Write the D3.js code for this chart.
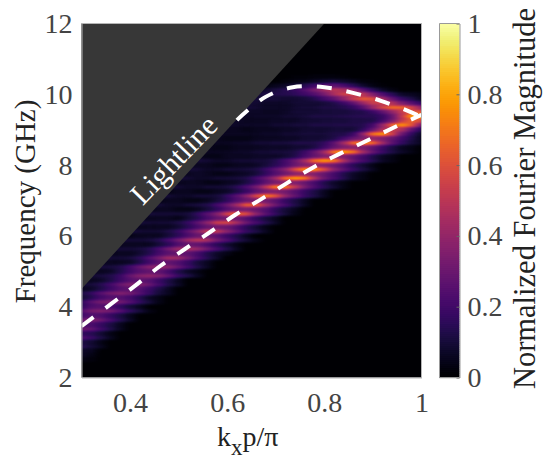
<!DOCTYPE html>
<html>
<head>
<meta charset="utf-8">
<script src="https://cdn.jsdelivr.net/npm/d3@7"></script>
<style>
  html, body { margin: 0; padding: 0; background: #fff; }
  svg { display: block; }
  text { font-family: "Liberation Serif", "Times New Roman", serif; }
</style>
</head>
<body>
<div id="chart"></div>
<script>
// kx p/pi columns of the map
const kxStart = 0.3, kxStep = 0.02;
// frequency of the first row below, rows go downward
const freqTop = 10.5, freqStep = 0.125;

// map rows in percent: first entry is the index of the first column, the rest are cells
const cellRows = [
  [22, 1,1,2,2,2,1],
  [21, 2,3,4,6,8,9,7,5,2,1],
  [18, 2,3,5,7,10,14,20,25,27,22,15,8,3,1],
  [17, 4,5,8,11,14,18,24,34,44,50,47,41,26,15,7,3],
  [17, 9,10,12,13,14,16,20,25,34,47,56,60,51,36,24,15,7,6,4],
  [16, 7,9,10,10,10,9,9,10,14,21,28,40,55,64,60,46,29,18,12,6],
  [15, 6,7,9,9,7,7,7,9,9,9,10,13,19,28,42,54,56,48,34,25,17],
  [14, 7,9,10,10,9,7,7,7,9,10,10,12,12,14,18,27,43,59,70,68,58,42],
  [13, 6,7,9,9,7,7,6,6,7,9,9,9,10,10,10,12,13,18,27,40,54,62,66],
  [12, 6,7,9,10,9,7,7,7,7,9,9,10,12,12,12,13,14,15,15,19,30,54,82,95],
  [11, 6,6,7,9,9,7,6,6,6,7,7,7,9,9,10,10,10,12,12,13,21,34,54,66,60],
  [10, 6,7,9,10,9,7,7,7,7,7,9,9,10,10,12,12,12,13,13,14,21,42,68,78,62,34],
  [10, 4,6,7,7,7,6,6,4,6,6,6,7,7,9,9,9,10,10,10,17,30,50,56,48,28,15],
  [9, 6,7,9,9,7,7,6,6,6,6,7,7,9,9,10,10,10,12,13,19,40,70,78,56,30,16,7],
  [9, 4,6,7,7,6,6,4,4,4,6,6,6,7,7,9,9,10,13,21,30,37,42,37,30,21,13,6],
  [8, 6,7,9,9,7,6,6,6,7,7,9,9,10,10,12,12,13,17,27,44,67,76,67,44,27,17,10,6],
  [8, 4,6,7,7,6,6,4,4,6,6,6,7,7,7,9,9,12,20,29,36,40,36,29,20,12,6,4],
  [7, 6,7,9,9,7,6,6,6,6,7,7,9,9,10,10,12,19,29,44,70,80,70,44,29,19,12,7,4],
  [7, 4,6,7,7,6,6,4,4,6,6,6,7,7,7,9,13,21,29,36,40,36,29,21,13,7,4],
  [12, 10,9,7,7,9,9,10,10,14,22,31,46,70,80,72,48,31,22,14,7,4],
  [11, 6,6,6,4,4,6,6,7,10,15,22,30,37,40,37,31,23,15,9,4],
  [11, 10,9,7,7,9,9,10,12,19,28,39,61,78,78,61,39,28,19,12,6],
  [10, 4,6,7,6,4,4,6,7,10,17,25,32,39,40,36,29,21,13,7,4],
  [10, 10,9,7,7,9,9,10,13,21,30,44,70,80,72,48,31,22,14,7,4],
  [9, 4,6,6,6,4,4,6,7,12,19,28,35,39,36,29,21,13,7,4],
  [9, 10,9,7,7,9,9,10,15,23,33,51,72,72,51,33,23,15,9,4],
  [9, 4,6,6,4,4,6,7,12,19,28,35,37,33,26,18,12,6],
  [8, 10,9,7,7,9,9,10,17,26,39,59,72,61,40,28,18,12,6],
  [8, 4,6,6,4,4,6,10,16,25,32,36,33,27,18,12,6],
  [7, 10,9,7,7,9,10,13,21,30,44,64,64,44,30,21,13,6],
  [7, 4,6,6,4,4,6,10,17,25,32,35,31,25,16,10,6],
  [7, 10,9,9,9,10,17,26,37,56,66,59,39,26,17,10,4],
  [6, 4,6,6,6,4,9,14,22,29,33,31,25,16,10,6],
  [6, 10,9,9,9,12,18,28,40,56,58,46,31,22,14,7],
  [5, 4,6,6,6,6,9,15,22,29,32,30,23,15,9,4],
  [5, 10,9,9,9,12,18,28,39,54,52,39,28,18,12,6],
  [5, 4,6,6,6,10,16,24,30,31,26,18,12,6],
  [4, 10,9,9,10,14,22,32,44,50,46,33,24,15,9,4],
  [4, 6,6,6,6,10,16,25,30,28,22,15,9,4],
  [3, 10,9,9,10,14,22,32,43,46,40,30,21,13,6],
  [3, 6,6,6,9,14,22,28,30,28,21,13,7,4],
  [2, 10,9,9,10,15,24,33,44,42,32,22,14,7],
  [2, 6,6,6,7,13,21,28,29,25,18,10,6],
  [2, 10,10,13,20,29,37,40,37,29,20,12,6],
  [1, 6,6,7,13,20,26,29,28,21,13,7,4],
  [0, 9,9,10,13,19,29,37,40,36,28,18,12,6],
  [0, 6,6,7,12,19,25,28,26,19,12,6],
  [0, 9,10,14,21,30,37,37,30,21,13,7],
  [0, 6,7,12,19,25,28,25,19,12,6],
  [0, 12,17,26,33,37,33,26,18,10,6],
  [0, 9,14,21,25,25,21,14,7,4],
  [0, 17,26,33,36,32,25,17,10,4],
  [0, 17,24,26,24,17,10,6],
  [0, 25,32,35,32,25,16,10,4],
  [0, 21,25,24,18,12,6],
  [0, 31,35,30,22,14,7],
  [0, 24,23,18,12,6],
  [0, 31,28,20,13,6],
  [0, 17,15,9,4],
  [0, 24,19,12,6],
  [0, 12,9,4],
  [0, 15,10,6],
  [0, 7,6],
  [0, 7,4],
  [0, 4,2]
];

// dashed white fits over the two bands
const lowerK = [0.3, 0.363, 0.412, 0.462, 0.513, 0.565, 0.616, 0.67, 0.723, 0.775, 0.83, 0.886, 0.941, 1];
const lowerF = [3.45, 4.1, 4.61, 5.15, 5.63, 6.11, 6.59, 7.04, 7.49, 7.92, 8.31, 8.68, 9.05, 9.42];
const upperK = [0.62, 0.678, 0.735, 0.8, 0.859, 0.918, 0.972, 1];
const upperF = [9.27, 9.92, 10.2, 10.2, 10.04, 9.81, 9.53, 9.36];

// edge of the grey lightline wedge
const lightK = [0.3, 0.8];
const lightF = [4.5, 12];

const xTicks = [0.4, 0.6, 0.8, 1];
const yTicks = [2, 4, 6, 8, 10, 12];
const barTicks = [0, 0.2, 0.4, 0.6, 0.8, 1];

const W = 548, H = 461;
const plot = {left: 81.5, right: 421.5, top: 23.5, bottom: 377.5};
const bar = {left: 439.5, right: 459.5};

const x = d3.scaleLinear().domain([0.3, 1]).range([plot.left, plot.right]);
const y = d3.scaleLinear().domain([2, 12]).range([plot.bottom, plot.top]);
const barY = d3.scaleLinear().domain([0, 1]).range([plot.bottom, plot.top]);
const color = d3.scaleSequential(d3.interpolateInferno).domain([0, 1]);
const grey = d3.scaleLinear().domain([0, 100]).range(["#000", "#fff"]);

const svg = d3.select("#chart").append("svg").attr("width", W).attr("height", H);
const defs = svg.append("defs");

defs.append("clipPath").attr("id", "plotClip").append("rect")
  .attr("x", plot.left).attr("y", plot.top)
  .attr("width", plot.right - plot.left).attr("height", plot.bottom - plot.top);

// blur the values first, then push them through inferno so the in-between tones stay right
const filter = defs.append("filter").attr("id", "heat")
  .attr("filterUnits", "userSpaceOnUse")
  .attr("x", plot.left - 30).attr("y", plot.top - 30)
  .attr("width", plot.right - plot.left + 60).attr("height", plot.bottom - plot.top + 60)
  .attr("color-interpolation-filters", "sRGB");
filter.append("feGaussianBlur").attr("stdDeviation", "3.5 0.8");
const table = d3.range(0, 1.0001, 1 / 32).map(v => d3.rgb(color(v)));
const transfer = filter.append("feComponentTransfer");
["r", "g", "b"].forEach(ch => {
  transfer.append("feFunc" + ch.toUpperCase()).attr("type", "table")
    .attr("tableValues", table.map(c => (c[ch] / 255).toFixed(3)).join(" "));
});

// flatten the rows into cells
const cells = [];
cellRows.forEach((row, i) => {
  row.slice(1).forEach((v, j) => {
    cells.push({k: kxStart + kxStep * (row[0] + j), f: freqTop - freqStep * i, v: v});
  });
});

const plotG = svg.append("g").attr("clip-path", "url(#plotClip)");
const heat = plotG.append("g").attr("filter", "url(#heat)");
heat.append("rect")
  .attr("x", plot.left - 30).attr("y", plot.top - 30)
  .attr("width", plot.right - plot.left + 60).attr("height", plot.bottom - plot.top + 60)
  .attr("fill", "#000");
heat.selectAll("rect.cell")
  .data(cells)
  .join("rect")
    .attr("class", "cell")
    .attr("x", d => x(d.k - kxStep / 2))
    .attr("y", d => y(d.f + freqStep / 2))
    .attr("width", x(kxStart + kxStep) - x(kxStart))
    .attr("height", y(freqTop) - y(freqTop + freqStep))
    .attr("fill", d => grey(d.v));

// lightline wedge
const wedge = d3.line().x(d => x(d[0])).y(d => y(d[1]));
plotG.append("path")
  .attr("d", wedge([[lightK[0], 12], [lightK[0], lightF[0]], [lightK[1], lightF[1]]]) + "Z")
  .attr("fill", "#373737");

// dashed curves
const curve = d3.line().x(d => x(d[0])).y(d => y(d[1])).curve(d3.curveCatmullRom);
[[lowerK, lowerF], [upperK, upperF]].forEach(([ks, fs]) => {
  plotG.append("path")
    .attr("d", curve(ks.map((k, i) => [k, fs[i]])))
    .attr("fill", "none")
    .attr("stroke", "#fff")
    .attr("stroke-width", 4)
    .attr("stroke-dasharray", "15 15");
});

svg.append("text")
  .attr("transform", "translate(176,162) rotate(-46)")
  .attr("text-anchor", "middle")
  .attr("dominant-baseline", "middle")
  .attr("font-size", 30)
  .attr("fill", "#fff")
  .text("Lightline");

// axes
const tickColor = "#444";
const xAxis = svg.append("g").attr("transform", `translate(0,${plot.bottom})`)
  .call(d3.axisBottom(x).tickValues(xTicks).tickFormat(d3.format("~g")).tickSize(0).tickPadding(15));
const yAxis = svg.append("g").attr("transform", `translate(${plot.left},0)`)
  .call(d3.axisLeft(y).tickValues(yTicks).tickSize(0).tickPadding(9));
[xAxis, yAxis].forEach(g => {
  g.attr("font-family", null);
  g.selectAll("text").attr("font-size", 28).attr("fill", tickColor);
  g.select(".domain").attr("stroke", "#b5b5b5");
});
// rest of the axes box
svg.append("path")
  .attr("d", `M${plot.left},${plot.top}H${plot.right}V${plot.bottom}`)
  .attr("fill", "none").attr("stroke", "#b5b5b5");

svg.append("text")
  .attr("transform", `translate(35,${(plot.top + plot.bottom) / 2 + 1}) rotate(-90)`)
  .attr("text-anchor", "middle")
  .attr("font-size", 29)
  .attr("fill", "#222")
  .text("Frequency (GHz)");

const xLabel = svg.append("text")
  .attr("x", 217).attr("y", 446)
  .attr("font-size", 28)
  .attr("fill", "#222");
xLabel.append("tspan").text("k");
xLabel.append("tspan").attr("dy", 9).attr("font-size", 23).text("x");
xLabel.append("tspan").attr("dy", -9).text("p/π");

// colorbar
const barG = svg.append("g");
barG.selectAll("rect")
  .data(d3.range(0, 1, 1 / 177))
  .join("rect")
    .attr("x", bar.left)
    .attr("y", d => barY(d + 1 / 177))
    .attr("width", bar.right - bar.left)
    .attr("height", barY(0) - barY(1 / 177) + 0.6)
    .attr("fill", d => color(d));
const barAxis = svg.append("g").attr("transform", `translate(${bar.right},0)`)
  .call(d3.axisRight(barY).tickValues(barTicks).tickFormat(d3.format("~g")).tickSizeInner(-3).tickSizeOuter(0).tickPadding(8));
barAxis.attr("font-family", null);
barAxis.selectAll("text").attr("font-size", 28).attr("fill", tickColor);
barAxis.selectAll(".tick line").attr("stroke", "#666");
barAxis.select(".domain").attr("stroke", "#999");
svg.append("path")
  .attr("d", `M${bar.right},${plot.top}H${bar.left}V${plot.bottom}H${bar.right}`)
  .attr("fill", "none").attr("stroke", "#999");

svg.append("text")
  .attr("transform", `translate(535,${(plot.top + plot.bottom) / 2 - 2}) rotate(-90)`)
  .attr("text-anchor", "middle")
  .attr("font-size", 30.5)
  .attr("fill", "#222")
  .text("Normalized Fourier Magnitude");
</script>
</body>
</html>
